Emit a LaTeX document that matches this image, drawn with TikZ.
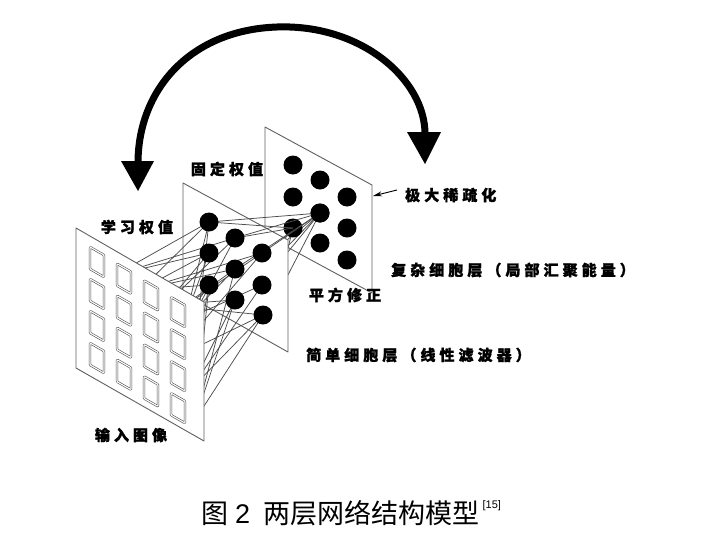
\documentclass[tikz,border=0pt]{standalone}
\usepackage{fontspec}
\usetikzlibrary{arrows.meta}
\newfontfamily\capfont{Noto Sans CJK SC}
\newfontfamily\lab[LetterSpace=27,BoldFeatures={FakeBold=1.5}]{Noto Sans CJK SC}
\newfontfamily\arialf{Liberation Sans}
\begin{document}
\begin{tikzpicture}[x=1pt,y=-1pt,
  plane/.style={draw=gray!75!black, line width=0.9pt, fill=white, line join=round},
  dot/.style={circle, fill=black, inner sep=0pt, minimum size=19pt},
  wire/.style={draw=black!70, line width=0.75pt},
  cell/.style={draw=gray!65!black, double=white, double distance=1.1pt, line width=0.6pt, line join=round},
  lbl/.style={font=\lab\bfseries\fontsize{15}{15}\selectfont, inner sep=0pt},
  bigarrow/.style={draw=black, line width=7pt},
  head/.style={fill=black},
]
\useasboundingbox (0,0) rectangle (712,533);

% ---------- plane 3 (complex cells) ----------
\coordinate (c1) at (265,127); \coordinate (c2) at (372,185);
\coordinate (c3) at (372,293); \coordinate (c4) at (265,235);
\draw[plane] (c1) -- (c2) -- (c3) -- (c4) -- cycle;
\foreach \n/\x/\y in {D1/293/165, D2/293/197, D3/293/228,
                      E1/320/180, E2/320/213, E3/320/243,
                      F1/347/197, F2/347/228, F3/347/260}
  \coordinate (\n) at (\x,\y);
% hidden points behind plane 2
\coordinate (H1) at (260,262); \coordinate (H2) at (250,285);
\coordinate (H3) at (275,300); \coordinate (H4) at (240,310);
\foreach \h in {H1,H2,H3,H4} \draw[wire] (E2) -- (\h);
\draw[wire] (D3) -- (H2); \draw[wire] (D3) -- (H3);
\foreach \n in {D1,D2,D3,E1,E2,E3,F1,F2,F3} \node[dot] (n\n) at (\n) {};

% ---------- plane 2 (simple cells) ----------
\coordinate (b1) at (183,183); \coordinate (b2) at (288,240);
\coordinate (b3) at (288,352); \coordinate (b4) at (183,293);
\draw[plane] (b1) -- (b2) -- (b3) -- (b4) -- cycle;
\foreach \n/\x/\y in {A1/209/222, A2/209/253, A3/209/285,
                      B1/235/238, B2/235/269, B3/235/300,
                      C1/262/253, C2/262/285, C3/263/315}
  \coordinate (\n) at (\x,\y);
% pooling wires to plane 3
\foreach \s in {A1,B1,C1,B2} \draw[wire] (\s) -- (nE2.center);
\draw[wire] (A1) -- (nD3.center); \draw[wire] (B1) -- (nD3.center);
\node[dot] at (E2) {};
% targets on plane 1 (receptive fields, hidden behind it)
\coordinate (T1) at (115,275); \coordinate (T2) at (140,290);
\coordinate (T3) at (165,305); \coordinate (T4) at (185,320);
\coordinate (T5) at (170,360); \coordinate (T6) at (190,390);
\coordinate (T7) at (150,330); \coordinate (T8) at (195,420);
\foreach \s/\tl in {A1/{T1,T2,T4,T6}, A2/{T1,T3,T5,T2}, A3/{T2,T4,T6,T8},
                    B1/{T1,T3,T5}, B2/{T2,T4,T7,T8}, B3/{T3,T6,T8},
                    C1/{T2,T5,T7}, C2/{T4,T6}, C3/{T3,T5,T8,T6}}
  \foreach \t in \tl \draw[wire] (\s) -- (\t);
\foreach \n in {A1,A2,A3,B1,B2,B3,C1,C2,C3} \node[dot] (n\n) at (\n) {};

% ---------- plane 1 (input image) ----------
\coordinate (a1) at (76,228); \coordinate (a2) at (204,302);
\coordinate (a3) at (204,441); \coordinate (a4) at (76,368);
\draw[plane] (a1) -- (a2) -- (a3) -- (a4) -- cycle;
\foreach \i in {0,1,2,3}
  \foreach \j in {0,1,2,3} {
    \pgfmathsetmacro{\sx}{90+27*\i}
    \pgfmathsetmacro{\sy}{247+16.7*\i+32*\j}
    \draw[cell, rounded corners=0.8pt] (\sx,\sy) -- ++(14,8) -- ++(0,22) -- ++(-14,-8) -- cycle;
  }

% ---------- big curved arrow ----------
\coordinate (la) at (138,163); \coordinate (ra) at (425,134);
\coordinate (top) at (277,27);
\draw[bigarrow] (la) .. controls (138,90) and (190,30) .. (top)
  .. controls (362,24) and (425,80) .. (ra);
\fill[head] (121,161) -- (154,161) -- (138,191) -- cycle;
\fill[head] (407,132) -- (441,132) -- (425,164) -- cycle;

% ---------- small arrow ----------
\coordinate (sp) at (397,190); \coordinate (se) at (373,196);
\draw[line width=0.9pt, -{Stealth[length=9pt,width=5pt]}] (sp) -- (se);

% ---------- labels ----------
\node[lbl] (l1) at (137,227) {学习权值};
\node[lbl] (l2) at (227,169) {固定权值};
\node[lbl] (l3) at (131,435) {输入图像};
\node[lbl] (l4) at (345,295) {平方修正};
\node[lbl, anchor=west] (l5) at (405,195) {极大稀疏化};
\node[lbl, anchor=west] (l6) at (391,270) {复杂细胞层（局部汇聚能量）};
\node[lbl, anchor=west] (l7) at (306,355) {简单细胞层（线性滤波器）};

% ---------- caption ----------
\node[anchor=base west, inner sep=0pt, font=\capfont\fontsize{27}{27}\selectfont] (cap) at (201,523)
  {图\hspace{7pt}{\arialf 2}\hspace{13pt}两层网络结构模型};
\node[anchor=base west, inner sep=0pt, font=\arialf\fontsize{11}{11}\selectfont] (ref) at (cap.base east) [xshift=3pt, yshift=15pt] {[15]};
\end{tikzpicture}
\end{document}
